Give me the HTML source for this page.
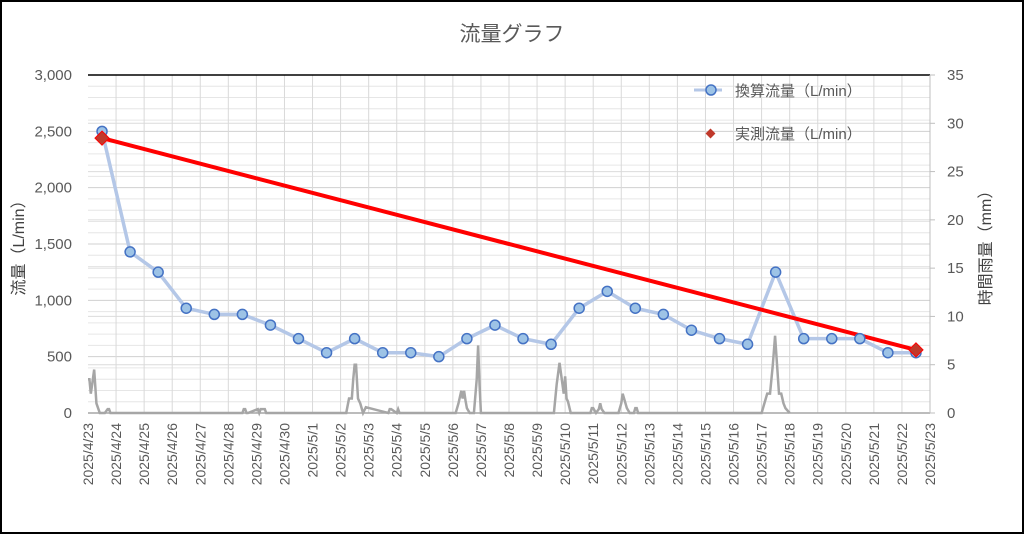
<!DOCTYPE html>
<html><head><meta charset="utf-8"><style>
html,body{margin:0;padding:0;background:#fff}
svg{display:block;font-family:"Liberation Sans","Noto Sans CJK JP",sans-serif}
</style></head><body>
<svg id="chart" width="1024" height="534" viewBox="0 0 1024 534" xmlns="http://www.w3.org/2000/svg">
<rect x="1" y="1" width="1022" height="532" fill="#fff" stroke="#000" stroke-width="2"/>
<text x="512" y="41" text-anchor="middle" font-size="21" fill="#595959">流量グラフ</text>
<g id="grid"></g><g id="axes"></g><g id="series"></g>
<text transform="translate(24,244) rotate(-90)" text-anchor="middle" font-size="16" fill="#404040">流量（L/min）</text>
<text transform="translate(991,244) rotate(-90)" text-anchor="middle" font-size="16" fill="#404040">時間雨量（mm）</text>
<g>
<line x1="694" y1="90" x2="722" y2="90" stroke="#b4c7e7" stroke-width="3"/>
<circle cx="711" cy="90" r="5" fill="#9dc3e6" stroke="#4472c4" stroke-width="1.5"/>
<text x="735" y="96" font-size="15" fill="#595959">換算流量（L/min）</text>
<rect x="707" y="130" width="7" height="7" fill="#c0392b" transform="rotate(45 710.5 133.5)"/>
<text x="735" y="139" font-size="15" fill="#595959">実測流量（L/min）</text>
</g>
</svg>
<script>
const dateLabels=["2025/4/23","2025/4/24","2025/4/25","2025/4/26","2025/4/27","2025/4/28","2025/4/29","2025/4/30","2025/5/1","2025/5/2","2025/5/3","2025/5/4","2025/5/5","2025/5/6","2025/5/7","2025/5/8","2025/5/9","2025/5/10","2025/5/11","2025/5/12","2025/5/13","2025/5/14","2025/5/15","2025/5/16","2025/5/17","2025/5/18","2025/5/19","2025/5/20","2025/5/21","2025/5/22","2025/5/23"];
const leftTicks=["0","500","1,000","1,500","2,000","2,500","3,000"];
const rightTicks=["0","5","10","15","20","25","30","35"];
const convertedFlow=[2500,1430,1250,930,875,875,780,660,535,660,535,535,500,660,780,660,610,930,1080,930,875,735,660,610,1250,660,660,660,535,535];
const measuredDays=[0.5,29.5];
const measuredFlow=[2440,560];
const rainDays=[0,0.05,0.1,0.15,0.22,0.3,0.42,0.6,0.7,0.75,0.8,5.5,5.55,5.6,5.65,5.7,6.05,6.1,6.15,6.25,6.3,6.35,9.2,9.3,9.4,9.45,9.5,9.55,9.62,9.7,9.8,9.9,10.7,10.75,10.8,11.0,11.05,11.1,13.1,13.2,13.3,13.35,13.4,13.45,13.5,13.6,13.75,13.85,13.9,13.95,14.0,14.1,16.6,16.7,16.8,16.88,16.95,17.0,17.05,17.1,17.2,17.3,17.9,17.95,18.0,18.1,18.2,18.25,18.3,18.4,18.9,19.0,19.05,19.1,19.2,19.3,19.45,19.5,19.55,19.6,24.0,24.2,24.3,24.4,24.48,24.55,24.62,24.7,24.78,24.85,25.0];
const rainMM=[3.5,3.5,2,3,4.5,1,0,0,0.4,0.4,0,0,0.4,0.4,0,0,0.4,0,0.4,0.4,0.4,0,0,1.5,1.5,3.5,5,5,1.5,1,0,0.6,0,0.4,0.4,0,0.4,0,0,1,2.3,1.5,2.3,1.3,0.5,0,0,3.5,7,3,0,0,0,3,5.2,3.5,2,3.8,1.5,1.2,0,0,0,0.5,0.5,0,0.4,1,0.4,0,0,1,2,1.5,0.5,0,0,0.5,0.5,0,0,2,2,5,8,5,2,2,1,0.5,0];
const NS="http://www.w3.org/2000/svg";
const L=88,R=930,T=75,B=413,nDays=30;
const xDay=d=>L+(R-L)*d/nDays;
const yLeft=v=>B-(B-T)*v/3000;
const yRight=v=>B-(B-T)*v/35;
function mk(tag,parent,attrs){const e=document.createElementNS(NS,tag);for(const k in attrs)e.setAttribute(k,attrs[k]);parent.appendChild(e);return e;}
const grid=document.getElementById('grid'),axes=document.getElementById('axes'),ser=document.getElementById('series');
for(let v=100;v<3000;v+=100){const l=mk('line',grid,{x1:L,x2:R,y1:yLeft(v),y2:yLeft(v),stroke:v%500===0?'#d0d0d0':'#e6e6e6','stroke-width':1});

}
for(let v=5;v<35;v+=5){const l=mk('line',grid,{x1:L,x2:R,y1:yRight(v),y2:yRight(v),stroke:'#dcdcdc','stroke-width':1});

}
for(let i=1;i<=nDays;i++){const l=mk('line',grid,{x1:xDay(i),x2:xDay(i),y1:T,y2:B,stroke:'#d9d9d9','stroke-width':1});

}
const topBorder=mk('line',axes,{x1:L,x2:R,y1:T,y2:T,stroke:'#000','stroke-width':1.5});


const xa=mk('line',axes,{x1:L,x2:R,y1:B,y2:B,stroke:'#a6a6a6','stroke-width':1.5});


const ra=mk('line',axes,{x1:R,x2:R,y1:T,y2:B,stroke:'#bfbfbf','stroke-width':1});


leftTicks.forEach((t,i)=>{const e=mk('text',axes,{x:72,y:yLeft(i*500)+5,'text-anchor':'end','font-size':15,fill:'#595959'});e.textContent=t;

});
rightTicks.forEach((t,i)=>{mk('line',axes,{x1:R,x2:R+5,y1:yRight(i*5),y2:yRight(i*5),stroke:'#bfbfbf'});const e=mk('text',axes,{x:947,y:yRight(i*5)+5,'font-size':15,fill:'#595959'});e.textContent=t;

});
dateLabels.forEach((t,i)=>{const x=xDay(i);const e=mk('text',axes,{transform:`translate(${x+5},423) rotate(-90)`,'text-anchor':'end','font-size':14,fill:'#595959'});e.textContent=t;

});
const rp=mk('polyline',ser,{points:rainDays.map((d,i)=>xDay(d)+','+yRight(rainMM[i])).join(' '),fill:'none',stroke:'#a6a6a6','stroke-width':2.5});


const cp=mk('polyline',ser,{points:convertedFlow.map((v,i)=>xDay(i+0.5)+','+yLeft(v)).join(' '),fill:'none',stroke:'#b4c7e7','stroke-width':3.5});


const mp=mk('polyline',ser,{points:measuredDays.map((d,i)=>xDay(d)+','+yLeft(measuredFlow[i])).join(' '),fill:'none',stroke:'#ff0000','stroke-width':4});


convertedFlow.forEach((v,i)=>{const c=mk('circle',ser,{cx:xDay(i+0.5),cy:yLeft(v),r:5,fill:'#9dc3e6',stroke:'#4472c4','stroke-width':1.5});

});
measuredDays.forEach((d,i)=>{const x=xDay(d),y=yLeft(measuredFlow[i]);const r=mk('rect',ser,{x:x-5,y:y-5,width:10,height:10,fill:'#c0392b',stroke:'#ff0000','stroke-width':1,transform:`rotate(45 ${x} ${y})`});

});
</script>
</body></html>
